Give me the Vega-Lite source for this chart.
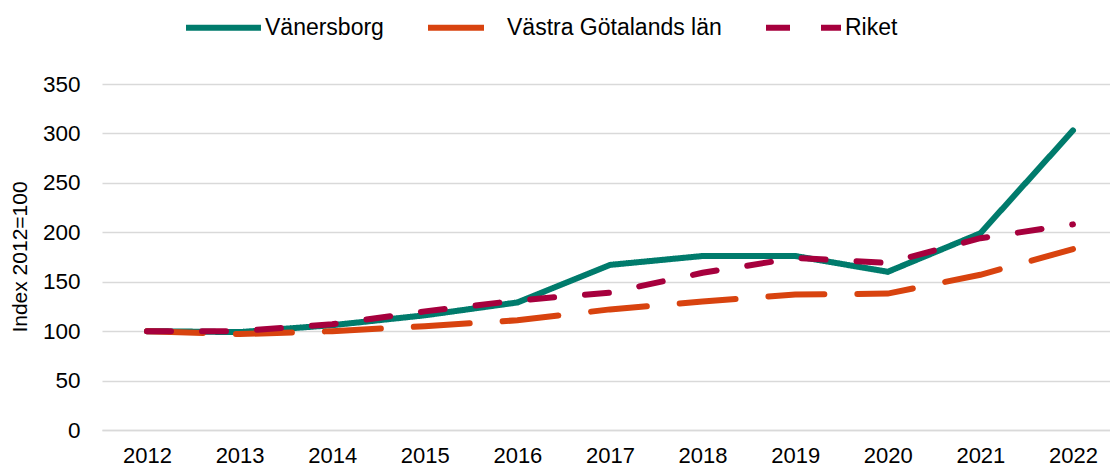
{
  "$schema": "https://vega.github.io/schema/vega-lite/v6.json",
  "width": 1008,
  "height": 346,
  "autosize": {"type": "none"},
  "padding": {"left": 102, "top": 84, "right": 0, "bottom": 38},
  "background": "#ffffff",
  "config": {
    "font": "Liberation Sans",
    "view": {"stroke": null},
    "axis": {"labelColor": "#000000", "titleColor": "#000000", "labelFont": "Liberation Sans", "titleFont": "Liberation Sans"},
    "legend": {"labelColor": "#000000", "labelFont": "Liberation Sans"}
  },
  "data": {
    "values": [
      {"year": 2012, "area": "Vänersborg", "index": 100},
      {"year": 2013, "area": "Vänersborg", "index": 99},
      {"year": 2014, "area": "Vänersborg", "index": 106},
      {"year": 2015, "area": "Vänersborg", "index": 116},
      {"year": 2016, "area": "Vänersborg", "index": 129},
      {"year": 2017, "area": "Vänersborg", "index": 167},
      {"year": 2018, "area": "Vänersborg", "index": 176},
      {"year": 2019, "area": "Vänersborg", "index": 176},
      {"year": 2020, "area": "Vänersborg", "index": 160},
      {"year": 2021, "area": "Vänersborg", "index": 199},
      {"year": 2022, "area": "Vänersborg", "index": 303},
      {"year": 2012, "area": "Västra Götalands län", "index": 100},
      {"year": 2013, "area": "Västra Götalands län", "index": 97},
      {"year": 2014, "area": "Västra Götalands län", "index": 100},
      {"year": 2015, "area": "Västra Götalands län", "index": 105},
      {"year": 2016, "area": "Västra Götalands län", "index": 111},
      {"year": 2017, "area": "Västra Götalands län", "index": 122},
      {"year": 2018, "area": "Västra Götalands län", "index": 130},
      {"year": 2019, "area": "Västra Götalands län", "index": 137},
      {"year": 2020, "area": "Västra Götalands län", "index": 138},
      {"year": 2021, "area": "Västra Götalands län", "index": 157},
      {"year": 2022, "area": "Västra Götalands län", "index": 183},
      {"year": 2012, "area": "Riket", "index": 100},
      {"year": 2013, "area": "Riket", "index": 100},
      {"year": 2014, "area": "Riket", "index": 107},
      {"year": 2015, "area": "Riket", "index": 120},
      {"year": 2016, "area": "Riket", "index": 131},
      {"year": 2017, "area": "Riket", "index": 139},
      {"year": 2018, "area": "Riket", "index": 159},
      {"year": 2019, "area": "Riket", "index": 174},
      {"year": 2020, "area": "Riket", "index": 169},
      {"year": 2021, "area": "Riket", "index": 194},
      {"year": 2022, "area": "Riket", "index": 208}
    ]
  },
  "mark": {"type": "line", "strokeWidth": 6, "strokeCap": "round", "strokeJoin": "miter"},
  "encoding": {
    "x": {
      "field": "year",
      "type": "quantitative",
      "scale": {"domain": [2011.514, 2022.4], "nice": false, "zero": false},
      "axis": {
        "title": null,
        "values": [2012, 2013, 2014, 2015, 2016, 2017, 2018, 2019, 2020, 2021, 2022],
        "format": "d",
        "grid": false,
        "ticks": false,
        "domain": true,
        "domainColor": "#d9d9d9",
        "domainWidth": 1.5,
        "labelFontSize": 22,
        "labelPadding": 15,
        "labelFlush": false,
        "labelBaseline": "top"
      }
    },
    "y": {
      "field": "index",
      "type": "quantitative",
      "scale": {"domain": [0, 350], "nice": false},
      "axis": {
        "title": "Index 2012=100",
        "titleFontSize": 21,
        "titleFontWeight": "normal",
        "titleAngle": -90,
        "titleX": -81.5,
        "titleY": 172.5,
        "titleAlign": "center",
        "titleBaseline": "middle",
        "values": [0, 50, 100, 150, 200, 250, 300, 350],
        "grid": true,
        "gridColor": "#d9d9d9",
        "gridWidth": 1.5,
        "domain": false,
        "ticks": false,
        "labelFontSize": 22.5,
        "labelPadding": 22
      }
    },
    "color": {
      "field": "area",
      "type": "nominal",
      "scale": {
        "domain": ["Vänersborg", "Västra Götalands län", "Riket"],
        "range": ["#007b6c", "#d8430f", "#a6003d"]
      },
      "legend": {
        "title": null,
        "orient": "none",
        "direction": "horizontal",
        "legendX": 81,
        "legendY": -97,
        "padding": 0,
        "symbolType": "stroke",
        "symbolSize": 5625,
        "symbolStrokeWidth": 6,
        "labelFontSize": 23,
        "labelOffset": 1,
        "columnPadding": 32,
        "labelLimit": 400
      }
    },
    "strokeDash": {
      "field": "area",
      "type": "nominal",
      "scale": {
        "domain": ["Vänersborg", "Västra Götalands län", "Riket"],
        "range": [[1, 0], [56, 33], [24, 31]]
      },
      "legend": {
        "title": null,
        "orient": "none",
        "direction": "horizontal",
        "legendX": 81,
        "legendY": -97,
        "padding": 0,
        "symbolType": "stroke",
        "symbolSize": 5625,
        "symbolStrokeWidth": 6,
        "labelFontSize": 23,
        "labelOffset": 1,
        "columnPadding": 32,
        "labelLimit": 400
      }
    }
  }
}
